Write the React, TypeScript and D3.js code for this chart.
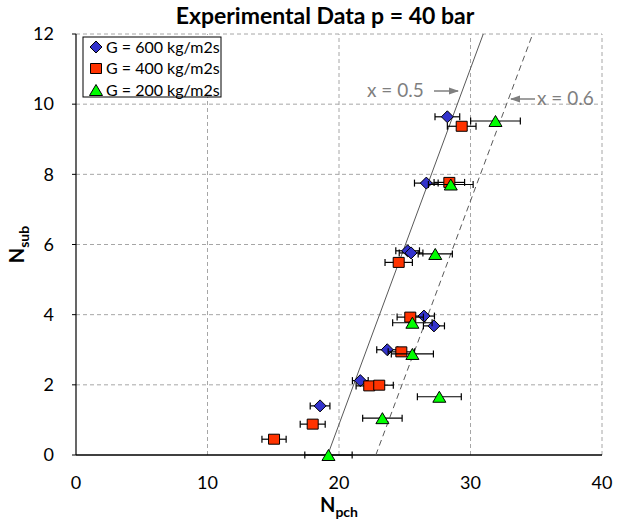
import React from "react";
import * as d3 from "d3";

const xTicks = [0, 10, 20, 30, 40];
const yTicks = [0, 2, 4, 6, 8, 10, 12];
const seriesNames = ["G = 600 kg/m2s", "G = 400 kg/m2s", "G = 200 kg/m2s"];
const seriesColors = ["#3333CC", "#FF3300", "#00FF00"];
const seriesShapes = ["diamond", "square", "triangle"];

const g600X = [28.24, 26.64, 25.22, 25.48, 26.46, 27.22, 23.67, 21.62, 18.56];
const g600Y = [9.64, 7.75, 5.82, 5.76, 3.96, 3.68, 3.0, 2.12, 1.4];
const g600Err = [0.94, 0.9, 0.9, 0.9, 0.8, 0.8, 0.8, 0.6, 0.75];

const g400X = [29.33, 28.39, 24.54, 25.42, 24.74, 22.3, 23.06, 18.0, 15.06];
const g400Y = [9.37, 7.77, 5.49, 3.93, 2.94, 1.97, 1.99, 0.88, 0.45];
const g400Err = [1.09, 1.16, 1.04, 1.0, 1.0, 1.0, 1.07, 0.95, 0.92];

const g200X = [31.9, 28.5, 27.32, 25.58, 25.58, 27.63, 23.3, 19.2];
const g200Y = [9.52, 7.71, 5.73, 3.77, 2.88, 1.66, 1.05, 0.0];
const g200Err = [1.89, 1.7, 1.3, 1.5, 1.6, 1.67, 1.5, 1.8];

const lineX05X = [19.14, 30.97];
const lineX05Y = [0, 12];
const lineX06X = [22.8, 34.73];
const lineX06Y = [0, 12];

const W = 623;
const H = 521;
const FONT = "Lato, 'Open Sans', sans-serif";

function markerPath(shape: string, cx: number, cy: number): string {
  if (shape === "diamond") {
    const r = 6;
    return `M${cx},${cy - r}L${cx + r},${cy}L${cx},${cy + r}L${cx - r},${cy}Z`;
  }
  if (shape === "square") {
    const w = 5.5;
    const h = 5;
    return `M${cx - w},${cy - h}H${cx + w}V${cy + h}H${cx - w}Z`;
  }
  const w = 6.5;
  const h = 5.5;
  return `M${cx},${cy - h}L${cx + w},${cy + h}L${cx - w},${cy + h}Z`;
}

export default function App() {
  const x = d3.scaleLinear().domain([0, 40]).range([76, 602]);
  const y = d3.scaleLinear().domain([0, 12]).range([455, 34]);

  const series = [
    { xs: g600X, ys: g600Y, es: g600Err },
    { xs: g400X, ys: g400Y, es: g400Err },
    { xs: g200X, ys: g200Y, es: g200Err },
  ];

  const line = d3
    .line<[number, number]>()
    .x((d) => x(d[0]))
    .y((d) => y(d[1]));

  const l05 = line(lineX05X.map((v, i) => [v, lineX05Y[i]] as [number, number]));
  const l06 = line(lineX06X.map((v, i) => [v, lineX06Y[i]] as [number, number]));

  const grey = "#7f7f7f";

  return (
    <svg
      width={W}
      height={H}
      style={{ position: "absolute", left: 0, top: 0, background: "#fff" }}
      fontFamily={FONT}
    >
      <defs>
        <marker id="ah" viewBox="0 0 10 10" refX="9" refY="5" markerWidth="7" markerHeight="7" orient="auto">
          <path d="M0,1.5L10,5L0,8.5Z" fill={grey} />
        </marker>
      </defs>
      <rect x={0} y={0} width={W} height={H} fill="#fff" />
      <text x={325} y={24} textAnchor="middle" fontSize={23} fontWeight="bold" fill="#000">
        Experimental Data p = 40 bar
      </text>

      {/* grid */}
      {xTicks.filter((t) => t > 0).map((t) => (
        <line key={"gx" + t} x1={x(t)} x2={x(t)} y1={y(0)} y2={y(12)} stroke="#a6a6a6" strokeDasharray="4,3" />
      ))}
      {yTicks.filter((t) => t > 0).map((t) => (
        <line key={"gy" + t} x1={x(0)} x2={x(40)} y1={y(t)} y2={y(t)} stroke="#a6a6a6" strokeDasharray="4,3" />
      ))}

      {/* axes */}
      <line x1={x(0)} x2={x(0)} y1={y(0)} y2={y(12)} stroke="#000" strokeWidth={1.2} />
      <line x1={x(0)} x2={x(40)} y1={y(0)} y2={y(0)} stroke="#000" strokeWidth={1.5} />
      {yTicks.map((t) => (
        <g key={"yt" + t}>
          <line x1={x(0) - 4} x2={x(0)} y1={y(t)} y2={y(t)} stroke="#000" />
          <text x={54} y={y(t)} dy="0.35em" textAnchor="end" fontSize={18} fill="#000">
            {t}
          </text>
        </g>
      ))}
      {xTicks.map((t) => (
        <text key={"xt" + t} x={x(t)} y={489} textAnchor="middle" fontSize={18} fill="#000">
          {t}
        </text>
      ))}
      <text x={320} y={512} fontSize={20} fontWeight="bold" fill="#000">
        N<tspan fontSize={14} dy={5}>pch</tspan>
      </text>
      <text transform={`translate(24,${y(6)}) rotate(-90)`} textAnchor="middle" fontSize={20} fontWeight="bold" fill="#000">
        N<tspan fontSize={14} dy={5}>sub</tspan>
      </text>

      {/* model lines */}
      <path d={l05 || ""} fill="none" stroke="#595959" strokeWidth={1} />
      <path d={l06 || ""} fill="none" stroke="#595959" strokeWidth={1} strokeDasharray="6,4" />

      {/* annotations */}
      <text x={367} y={97} fontSize={19} fill={grey}>x = 0.5</text>
      <line x1={434} x2={458} y1={91} y2={91} stroke={grey} strokeWidth={1.5} markerEnd="url(#ah)" />
      <text x={537} y={105} fontSize={19} fill={grey}>x = 0.6</text>
      <line x1={535} x2={511} y1={99} y2={99} stroke={grey} strokeWidth={1.5} markerEnd="url(#ah)" />

      {/* data */}
      {series.map((s, si) => (
        <g key={"s" + si}>
          {s.xs.map((v, i) => {
            const cy = y(s.ys[i]);
            const x1 = x(v - s.es[i]);
            const x2 = x(v + s.es[i]);
            return (
              <g key={"e" + i} stroke="#000" strokeWidth={1.2}>
                <line x1={x1} x2={x2} y1={cy} y2={cy} />
                <line x1={x1} x2={x1} y1={cy - 3.5} y2={cy + 3.5} />
                <line x1={x2} x2={x2} y1={cy - 3.5} y2={cy + 3.5} />
              </g>
            );
          })}
          {s.xs.map((v, i) => (
            <path
              key={"m" + i}
              d={markerPath(seriesShapes[si], x(v), y(s.ys[i]))}
              fill={seriesColors[si]}
              stroke="#000"
              strokeWidth={1}
            />
          ))}
        </g>
      ))}

      {/* legend */}
      <rect x={83} y={37} width={138} height={60} fill="#fff" stroke="#000" strokeWidth={1} />
      {seriesNames.map((n, i) => {
        const cy = 47 + i * 21.5;
        return (
          <g key={"lg" + i}>
            <path d={markerPath(seriesShapes[i], 96, cy)} fill={seriesColors[i]} stroke="#000" strokeWidth={1} />
            <text x={106} y={cy} dy="0.35em" fontSize={16} fill="#000">
              {n}
            </text>
          </g>
        );
      })}
    </svg>
  );
}
